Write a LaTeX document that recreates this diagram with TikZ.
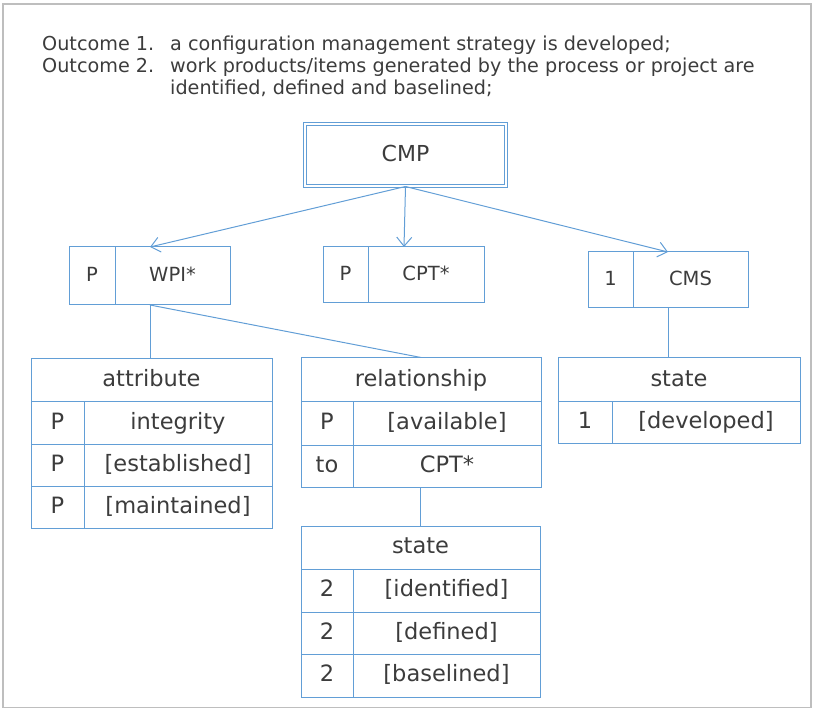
\documentclass[tikz,border=0pt]{standalone}
\usepackage{fontspec}
\setmainfont{DejaVu Sans}
\usetikzlibrary{arrows.meta}
\definecolor{boxblue}{RGB}{98,158,214}
\definecolor{txtgray}{RGB}{60,60,60}
\definecolor{framegray}{RGB}{190,190,190}
\begin{document}
\begin{tikzpicture}[x=1pt,y=-1pt,
  cell/.style={draw=boxblue,line width=1pt,inner sep=0pt,text=txtgray,
    text height=16.4pt,text depth=3.6pt,
    font=\fontsize{22.5}{26}\selectfont},
  kcell/.style={cell,text height=14.2pt,text depth=3pt,
    font=\fontsize{19.5}{22}\selectfont},
  hline/.style={text=txtgray,anchor=base west,inner sep=0pt,
    font=\fontsize{19.2}{22}\selectfont},
  conn/.style={draw=boxblue,line width=1pt},
  arr/.style={conn,-{Straight Barb[length=9pt,width=15pt,line width=1pt]}}]
 \useasboundingbox (0,0) rectangle (814,708);
 \draw[framegray,line width=1.2pt](3,4) rectangle (811,708);
 \node[hline](o1) at (42,51) {Outcome 1.};
 \node[hline](o1t) at (170,51) {a configuration management strategy is developed;};
 \node[hline](o2) at (42,73) {Outcome 2.};
 \node[hline](o2t) at (170,73) {work products/items generated by the process or project are};
 \node[hline](o3t) at (170,95) {identified, defined and baselined;};
 \node[cell,font=\fontsize{22}{26}\selectfont,double=white,double distance=2pt,
   minimum width=201pt,minimum height=62pt](cmp) at (405.5,155) {CMP};
 \node[kcell,minimum width=46pt,minimum height=58pt](wpiN) at (92,276) {P};
 \node[kcell,minimum width=115pt,minimum height=58pt](wpiT) at (172.5,276) {WPI*};
 \node[kcell,minimum width=45pt,minimum height=56pt](cptN) at (345.5,275) {P};
 \node[kcell,minimum width=116pt,minimum height=56pt](cptT) at (426,275) {CPT*};
 \node[kcell,minimum width=45pt,minimum height=56pt](cmsN) at (610.5,280) {1};
 \node[kcell,minimum width=115pt,minimum height=56pt](cmsT) at (690.5,280) {CMS};
 \coordinate (wpiIn) at (150,247);
 \coordinate (cptIn) at (404,247);
 \coordinate (cmsIn) at (668,252);
 \coordinate (wpiOut) at (150,305);
 \coordinate (cmsOut) at (668,308);
 \draw[arr](cmp.south)--(wpiIn);
 \draw[arr](cmp.south)--(cptIn);
 \draw[arr](cmp.south)--(cmsIn);
 \node[cell,minimum width=241pt,minimum height=43pt](attr) at (151.5,380.5) {attribute};
 \node[cell,minimum width=53pt,minimum height=42pt](attrN1) at (57.5,423) {P};
 \node[cell,minimum width=188pt,minimum height=42pt](attrT1) at (178,423) {integrity};
 \node[cell,minimum width=53pt,minimum height=42pt](attrN2) at (57.5,465) {P};
 \node[cell,minimum width=188pt,minimum height=42pt](attrT2) at (178,465) {[established]};
 \node[cell,minimum width=53pt,minimum height=42pt](attrN3) at (57.5,507) {P};
 \node[cell,minimum width=188pt,minimum height=42pt](attrT3) at (178,507) {[maintained]};
 \node[cell,minimum width=240pt,minimum height=44pt](rel) at (421,380) {relationship};
 \node[cell,minimum width=52pt,minimum height=43pt](relN) at (327,423.5) {P};
 \node[cell,minimum width=188pt,minimum height=43pt](relT) at (447,423.5) {[available]};
 \node[cell,minimum width=52pt,minimum height=42pt](toN) at (327,466) {to};
 \node[cell,minimum width=188pt,minimum height=42pt](toT) at (447,466) {CPT*};
 \node[cell,minimum width=239pt,minimum height=43pt](stB) at (420.5,547.5) {state};
 \node[cell,minimum width=52pt,minimum height=43pt](stBN1) at (327,590.5) {2};
 \node[cell,minimum width=187pt,minimum height=43pt](stBT1) at (446.5,590.5) {[identified]};
 \node[cell,minimum width=52pt,minimum height=42pt](stBN2) at (327,633) {2};
 \node[cell,minimum width=187pt,minimum height=42pt](stBT2) at (446.5,633) {[defined]};
 \node[cell,minimum width=52pt,minimum height=43pt](stBN3) at (327,675.5) {2};
 \node[cell,minimum width=187pt,minimum height=43pt](stBT3) at (446.5,675.5) {[baselined]};
 \node[cell,minimum width=242pt,minimum height=44pt](stA) at (679,380) {state};
 \node[cell,minimum width=54pt,minimum height=41pt](stAN) at (585,422.5) {1};
 \node[cell,minimum width=188pt,minimum height=41pt](stAT) at (706,422.5) {[developed]};
 \draw[conn](wpiOut)--(wpiOut |- attr.north);
 \draw[conn](wpiOut)--(rel.north);
 \draw[conn](toT.south -| stB.north)--(stB.north);
 \draw[conn](cmsOut)--(cmsOut |- stA.north);
\end{tikzpicture}
\end{document}
